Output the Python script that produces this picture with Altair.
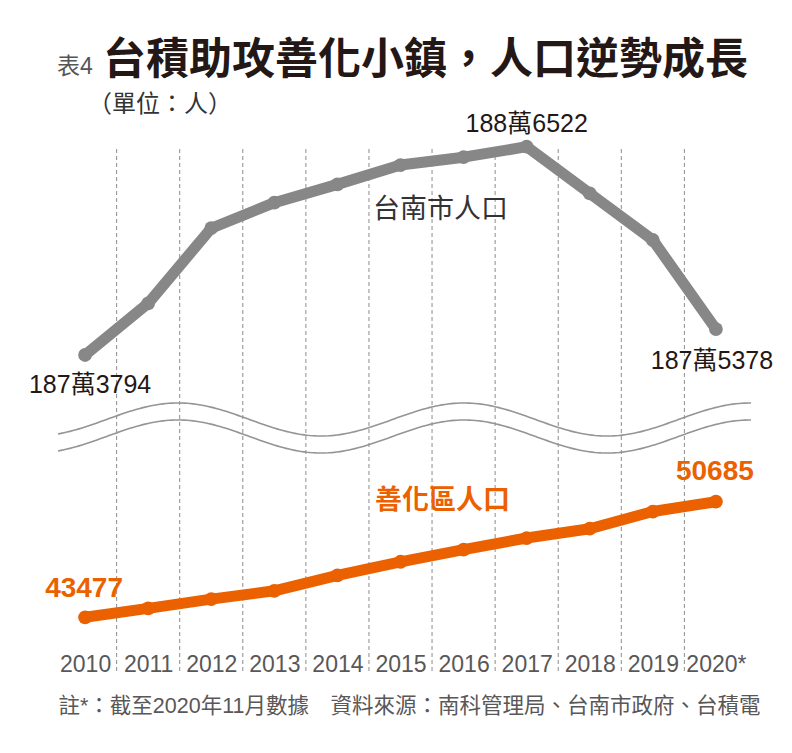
import altair as alt
import pandas as pd
import numpy as np

# ---------------- data ----------------
years = [2010, 2011, 2012, 2013, 2014, 2015, 2016, 2017, 2018, 2019, 2020]
year_labels = ["2010", "2011", "2012", "2013", "2014", "2015", "2016", "2017", "2018", "2019", "2020*"]
tainan = [1873794, 1876950, 1881540, 1883100, 1884220, 1885400, 1885880, 1886522, 1883670, 1880820, 1875378]
shanhua = [43477, 44030, 44610, 45130, 46090, 46940, 47700, 48420, 49000, 50070, 50685]

tainan_notes = {2010: "187萬3794", 2017: "188萬6522", 2020: "187萬5378"}
shanhua_notes = {2010: "43477", 2020: "50685"}
tainan_name = "台南市人口"
shanhua_name = "善化區人口"

title_tag = "表4"
title_text = "台積助攻善化小鎮，人口逆勢成長"
unit_text = "（單位：人）"
footnote = "註*：截至2020年11月數據　資料來源：南科管理局、台南市政府、台積電"

# ---------------- styles ----------------
GRAY = "#878787"
ORANGE = "#eb6100"
DARK = "#231815"
CJK = "Noto Sans CJK TC"
SANS = "Liberation Sans, Arial, Noto Sans CJK TC"

W, H = 757, 542
xscale = alt.Scale(domain=[2009, 2021], nice=False, zero=False)
ygray = alt.Scale(domain=[1854423, 1887542], nice=False, zero=False)
yorange = alt.Scale(domain=[40066, 73861], nice=False, zero=False)

df = pd.DataFrame({"year": years, "label": year_labels, "tainan": tainan, "shanhua": shanhua})
mids = pd.DataFrame({"mid": [(a + b) / 2 for a, b in zip(years[:-1], years[1:])]})

label_expr = "".join(f"datum.value == {y} ? '{l}' : " for y, l in zip(years, year_labels)) + "''"

# dashed separators
grid = alt.Chart(mids).mark_rule(color="#8c8c8c", strokeWidth=1, strokeDash=[4, 3]).encode(
    x=alt.X("mid:Q", scale=xscale, axis=None),
    y=alt.value(19),
    y2=alt.value(H),
)

# axis-break wave (decoration)
wx = np.arange(58, 752, 3)
wy = 419.5 - 16.5 * np.cos(2 * np.pi * (wx - 178) / 286)
wave_df = pd.concat([
    pd.DataFrame({"px": wx - 22, "py": wy - 130, "g": "a"}),
    pd.DataFrame({"px": wx - 22, "py": wy - 130 + 17, "g": "b"}),
])
wave = alt.Chart(wave_df).mark_line(color="#959595", strokeWidth=1.6).encode(
    x=alt.X("px:Q", scale=None, axis=None),
    y=alt.Y("py:Q", scale=None, axis=None),
    detail="g:N",
)

base = alt.Chart(df)

gray_line = base.mark_line(color=GRAY, strokeWidth=11, strokeCap="round", strokeJoin="round").encode(
    x=alt.X("year:Q", scale=xscale, axis=alt.Axis(
        values=years, labelExpr=label_expr, grid=False, domain=False, ticks=False, tickSize=0,
        labelPadding=0, labelBaseline="middle", offset=-8, labelFont=SANS, labelFontSize=23,
        labelColor="#595757", labelFlush=False, labelOverlap=False,
        title=footnote, titleFont=SANS, titleFontSize=21.5, titleFontWeight="normal",
        titleColor="#595757", titleX=36, titleY=42, titleAlign="left", titleAnchor="start",
        titleBaseline="middle", titleAngle=0)),
    y=alt.Y("tainan:Q", scale=ygray, axis=None),
)
gray_pts = base.mark_circle(color=GRAY, size=190, opacity=1).encode(
    x=alt.X("year:Q", scale=xscale, axis=None),
    y=alt.Y("tainan:Q", scale=ygray, axis=None),
)
orange_line = base.mark_line(color=ORANGE, strokeWidth=11, strokeCap="round", strokeJoin="round").encode(
    x=alt.X("year:Q", scale=xscale, axis=None),
    y=alt.Y("shanhua:Q", scale=yorange, axis=None),
)
orange_pts = base.mark_circle(color=ORANGE, size=190, opacity=1).encode(
    x=alt.X("year:Q", scale=xscale, axis=None),
    y=alt.Y("shanhua:Q", scale=yorange, axis=None),
)


def note(year, field, yscale, text, dx, dy, font, size, color, weight="normal"):
    d = pd.DataFrame({"year": [year], "v": [df.loc[df.year == year, field].iloc[0]], "t": [text]})
    return alt.Chart(d).mark_text(dx=dx, dy=dy, font=font, fontSize=size, color=color,
                                  fontWeight=weight, align="center", baseline="middle").encode(
        x=alt.X("year:Q", scale=xscale, axis=None),
        y=alt.Y("v:Q", scale=yscale, axis=None),
        text="t:N",
    )


notes = [
    note(2010, "tainan", ygray, tainan_notes[2010], 5, 30, SANS, 25, DARK),
    note(2017, "tainan", ygray, tainan_notes[2017], 0, -23, SANS, 25, DARK),
    note(2020, "tainan", ygray, tainan_notes[2020], -4, 32, SANS, 25, DARK),
    note(2010, "shanhua", yorange, shanhua_notes[2010], -1, -28, SANS, 28, ORANGE, "bold"),
    note(2020, "shanhua", yorange, shanhua_notes[2020], -1, -30, SANS, 28, ORANGE, "bold"),
    note(2016, "tainan", ygray, tainan_name, -23, 53, CJK, 27, "#333333"),
    note(2016, "shanhua", yorange, shanhua_name, -21, -49, CJK, 27, ORANGE, "bold"),
]


def static_text(text, x, y, font, size, color, weight="normal"):
    return alt.Chart(pd.DataFrame({"t": [text]})).mark_text(
        font=font, fontSize=size, color=color, fontWeight=weight, align="left", baseline="middle"
    ).encode(x=alt.value(x), y=alt.value(y), text="t:N")


titles = [
    static_text(title_tag, 35, -63, SANS, 23, "#555555"),
    static_text(title_text, 81, -69, CJK, 43, DARK, "bold"),
    static_text(unit_text, 66, -25, CJK, 24, "#333333"),
]

chart = alt.layer(grid, wave, gray_line, gray_pts, orange_line, orange_pts, *notes, *titles).resolve_scale(
    x="independent", y="independent"
).properties(
    width=W, height=H,
    autosize=alt.AutoSizeParams(type="none"),
    padding={"left": 14, "top": 122, "right": 5, "bottom": 70},
    background="white",
).configure_view(stroke=None)

chart.save("out.html", embed_options={"renderer": "svg", "actions": False})
